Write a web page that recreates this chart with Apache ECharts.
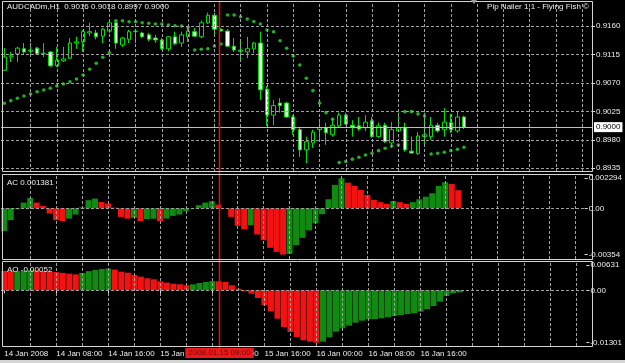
<!DOCTYPE html>
<html><head><meta charset="utf-8">
<script src="https://cdn.jsdelivr.net/npm/echarts@6/dist/echarts.min.js"></script>
<style>html,body{margin:0;padding:0;background:#000;}#c{width:625px;height:363px;}</style>
</head><body><div id="c"></div>
<script>
// ---- data (H1 bars, 14 Jan 2008 00:00 onwards) ----
const opens = [0.9090,0.9111,0.9116,0.9124,0.9120,0.9125,0.9116,0.9119,0.9097,0.9105,
0.9109,0.9133,0.9135,0.9149,0.9149,0.9144,0.9152,0.9165,0.9130,0.9139,
0.9151,0.9149,0.9146,0.9141,0.9138,0.9124,0.9143,0.9133,0.9143,0.9151,
0.9143,0.9165,0.9177,0.9155,0.9152,0.9128,0.9120,0.9119,0.9124,0.9133,
0.9060,0.9019,0.9038,0.9038,0.9016,0.8996,0.8964,0.8975,0.8996,0.8999,
0.8988,0.9002,0.9019,0.9003,0.9002,0.8999,0.9010,0.8985,0.9003,0.8975,
0.8994,0.8999,0.8962,0.8958,0.8985,0.8985,0.9003,0.8996,0.9007,0.8994,
0.9016];
const closes = [0.9111,0.9113,0.9125,0.9119,0.9122,0.9116,0.9117,0.9097,0.9106,0.9108,
0.9133,0.9135,0.9151,0.9151,0.9143,0.9155,0.9165,0.9133,0.9141,0.9151,
0.9152,0.9143,0.9139,0.9138,0.9124,0.9143,0.9132,0.9146,0.9152,0.9144,
0.9165,0.9177,0.9155,0.9152,0.9128,0.9122,0.9122,0.9124,0.9133,0.9059,
0.9019,0.9034,0.9034,0.9016,0.8996,0.8964,0.8977,0.8992,0.8999,0.8991,
0.9003,0.9019,0.9005,0.9000,0.8997,0.9008,0.8985,0.9002,0.8977,0.8996,
0.8999,0.8964,0.8959,0.8986,0.8988,0.9003,0.8994,0.9008,0.8996,0.9016,
0.9000];
const highs = [0.9125,0.9119,0.9127,0.9133,0.9133,0.9127,0.9133,0.9120,0.9127,0.9127,
0.9141,0.9143,0.9154,0.9165,0.9154,0.9157,0.9169,0.9169,0.9143,0.9154,
0.9155,0.9151,0.9149,0.9146,0.9141,0.9144,0.9151,0.9151,0.9158,0.9157,
0.9169,0.9181,0.9181,0.9157,0.9155,0.9141,0.9136,0.9143,0.9135,0.9151,
0.9065,0.9043,0.9046,0.9040,0.9019,0.8999,0.8985,0.8996,0.9011,0.9007,
0.9015,0.9023,0.9023,0.9011,0.9016,0.9019,0.9016,0.9007,0.9007,0.9008,
0.9023,0.9007,0.8985,0.8992,0.9023,0.9016,0.9007,0.9030,0.9021,0.9024,
0.9018];
const lows = [0.9089,0.9103,0.9103,0.9114,0.9116,0.9114,0.9111,0.9095,0.9095,0.9103,
0.9108,0.9124,0.9119,0.9144,0.9139,0.9133,0.9149,0.9124,0.9127,0.9133,
0.9133,0.9141,0.9136,0.9133,0.9122,0.9120,0.9130,0.9127,0.9135,0.9143,
0.9141,0.9163,0.9144,0.9151,0.9127,0.9119,0.9105,0.9109,0.9117,0.9043,
0.9002,0.9003,0.9023,0.9015,0.8988,0.8953,0.8943,0.8967,0.8980,0.8972,
0.8985,0.9000,0.9003,0.8985,0.8994,0.8994,0.8983,0.8983,0.8975,0.8967,
0.8992,0.8961,0.8958,0.8956,0.8972,0.8980,0.8991,0.8985,0.8991,0.8991,
0.8997];
const sarValues = [0.90378,0.90419,0.90457,0.90493,0.90525,0.90561,0.90588,0.90615,0.90651,0.90683,
0.90719,0.90762,0.90826,0.90915,0.91010,0.91105,0.91178,0.91684,0.91684,0.91668,
0.91668,0.91652,0.91643,0.91632,0.91632,0.91616,0.91605,0.91600,0.91579,0.91221,
0.91232,0.91241,0.91284,0.91315,0.91774,0.91774,0.91747,0.91711,0.91671,0.91632,
0.91537,0.91510,0.91368,0.91247,0.91126,0.90983,0.90773,0.90577,0.90383,0.90229,
0.90125,0.89439,0.89455,0.89493,0.89524,0.89560,0.89587,0.89628,0.89666,0.89702,
0.89718,0.90245,0.90245,0.90209,0.90177,0.89576,0.89587,0.89603,0.89628,0.89651,
0.89682];
const acValues = [-0.00175,-0.00091,-0.00008,0.00044,0.00079,0.00044,0.00018,-0.00040,-0.00091,-0.00098,
-0.00079,-0.00048,0.00007,0.00062,0.00074,0.00049,0.00036,0.00005,-0.00066,-0.00079,
-0.00073,-0.00098,-0.00083,-0.00080,-0.00098,-0.00079,-0.00058,-0.00048,-0.00022,0.00002,
0.00024,0.00044,0.00054,0.00028,-0.00002,-0.00066,-0.00134,-0.00160,-0.00130,-0.00200,
-0.00244,-0.00302,-0.00333,-0.00354,-0.00349,-0.00282,-0.00226,-0.00169,-0.00115,-0.00045,
0.00069,0.00179,0.002294,0.00196,0.00171,0.00140,0.00102,0.00064,0.00047,0.00034,
0.00056,0.00047,0.00034,0.00047,0.00069,0.00089,0.00115,0.00171,0.00199,0.00186,
0.001381];
const aoValues = [0.00480,0.00472,0.00476,0.00485,0.00498,0.00490,0.00478,0.00466,0.00452,0.00432,
0.00412,0.00395,0.00430,0.00475,0.00505,0.00530,0.00540,0.00515,0.00462,0.00437,
0.00380,0.00337,0.00298,0.00273,0.00223,0.00189,0.00164,0.00149,0.00124,0.00149,
0.00181,0.00206,0.00231,0.00223,0.00206,0.00124,0.00040,-0.00025,-0.00084,-0.00191,
-0.00372,-0.00526,-0.00705,-0.00911,-0.01035,-0.01159,-0.01241,-0.01275,-0.01301,-0.01275,
-0.01166,-0.01027,-0.00943,-0.00878,-0.00804,-0.00754,-0.00720,-0.00712,-0.00695,-0.00670,
-0.00638,-0.00613,-0.00588,-0.00571,-0.00531,-0.00471,-0.00390,-0.00283,-0.00141,-0.00074,
-0.00052];
const priceTicks = [0.9160,0.9115,0.9070,0.9025,0.8980,0.8935];
const acTicks = [0.002294,0,-0.00354];
const acTickLabels = ['0.002294','0.00','-0.00354'];
const aoTicks = [0.00631,0,-0.01301];
const aoTickLabels = ['0.00631','0.00','-0.01301'];
const timeTickLabels = ['14 Jan 2008','14 Jan 08:00','14 Jan 16:00','15 Jan 00:00','15 Jan 08:00','15 Jan 16:00','16 Jan 00:00','16 Jan 08:00','16 Jan 16:00'];
const lastPrice = 0.9000;
const markerBar = 33;
const markerLabel = '2008.01.15 09:00';
const headerText = 'AUDCADm,H1  0.9016 0.9018 0.8997 0.9000';
const eaText = 'Pip Nailer 1.1 - Flying Fish \u00A9';
const acText = 'AC 0.001381';
const aoText = 'AO -0.00052';

// ---- chart ----
const N = 90; // visible slots (incl. empty right margin)
const cats = [];
for (let i = 0; i < N; i++) {
  const d = 14 + Math.floor(i / 24), h = i % 24;
  cats.push('2008.01.' + d + ' ' + String(h).padStart(2, '0') + ':00');
}
const candleData = opens.map((o, i) => [o, closes[i], lows[i], highs[i]]);
const UP = '#118a11', DN = '#f21212';
function histData(vals, firstColor) {
  return vals.map((v, i) => ({
    value: v,
    itemStyle: { color: i === 0 ? firstColor : (v > vals[i - 1] ? UP : DN) }
  }));
}
const FONT = '"Liberation Sans", Arial, sans-serif';
const TXT = '#eeeeee';
function gridDash() { return { color: '#a0a0a0', type: [3, 2], width: 1 }; }
function vLines() {
  const a = [];
  for (let i = 4; i < N; i += 4) a.push({ xAxis: cats[i], lineStyle: gridDash() });
  return a;
}
function guideSeries(idx, extra) {
  return {
    type: 'line', xAxisIndex: idx, yAxisIndex: idx, data: [], silent: true, z: 1,
    markLine: {
      silent: true, animation: false, symbol: ['none', 'none'], precision: 6,
      label: { show: false }, emphasis: { disabled: true },
      data: vLines().concat(extra)
    }
  };
}
// vertical time-marker line (one custom series across all three panels)
const markerSeries = {
  type: 'custom', xAxisIndex: 2, yAxisIndex: 2, silent: true, z: 5, clip: false,
  data: [[markerBar]], encode: { x: 0 },
  renderItem: function (params, api) {
    const cs = params.coordSys;
    const x = Math.round(api.coord([api.value(0), 0])[0]) + 0.5;
    return {
      type: 'group',
      children: [
        { type: 'rect', shape: { x: x - 0.8, y: 2, width: 1.6, height: cs.y + cs.height + 4 - 2 }, style: { fill: '#cc1a1a' } },
        {
          type: 'text', z2: 10,
          style: {
            text: markerLabel, x: x, y: cs.y + cs.height + 2, align: 'center', verticalAlign: 'top',
            fill: '#7a0000', backgroundColor: '#ea1a1a', padding: [1, 3, 1, 3], font: '8px ' + FONT
          }
        }
      ]
    };
  }
};
function labelFor(ticks, labels) {
  return v => { const k = ticks.findIndex(t => Math.abs(t - v) < 1e-9); return k >= 0 ? labels[k] : ''; };
}
const showTime = i => i % 8 === 0 && (i / 8) < timeTickLabels.length;

const option = {
  backgroundColor: '#000',
  animation: false,
  grid: [
    { left: 1, width: 591, top: 2, height: 170 },
    { left: 1, width: 591, top: 175, height: 84 },
    { left: 1, width: 591, top: 262, height: 84 }
  ],
  xAxis: [0, 1, 2].map(g => ({
    type: 'category', gridIndex: g, data: cats, boundaryGap: true,
    axisLine: { show: false }, splitLine: { show: false },
    axisTick: g === 2 ? { show: true, interval: showTime, alignWithLabel: true, length: 3, lineStyle: { color: '#dddddd' } } : { show: false },
    axisLabel: g === 2 ? {
      show: true, interval: showTime, align: 'left', margin: 4, color: TXT, fontSize: 8, fontFamily: FONT,
      formatter: (v, i) => timeTickLabels[i / 8] || ''
    } : { show: false }
  })),
  yAxis: [
    {
      type: 'value', gridIndex: 0, position: 'right', min: 0.8929, max: 0.9198,
      axisLine: { show: false }, splitLine: { show: false },
      axisTick: { show: true, customValues: priceTicks, length: 3, lineStyle: { color: '#dddddd' } },
      axisLabel: { show: true, customValues: priceTicks, formatter: v => v.toFixed(4), color: TXT, fontSize: 8, fontFamily: FONT, margin: 4 }
    },
    {
      type: 'value', gridIndex: 1, position: 'right', min: -0.003876, max: 0.002546,
      axisLine: { show: false }, splitLine: { show: false },
      axisTick: { show: true, customValues: acTicks, length: 3, lineStyle: { color: '#dddddd' } },
      axisLabel: { show: true, customValues: acTicks, formatter: labelFor(acTicks, acTickLabels), color: TXT, fontSize: 8, fontFamily: FONT, margin: 4 }
    },
    {
      type: 'value', gridIndex: 2, position: 'right', min: -0.013821, max: 0.007022,
      axisLine: { show: false }, splitLine: { show: false },
      axisTick: { show: true, customValues: aoTicks, length: 3, lineStyle: { color: '#dddddd' } },
      axisLabel: { show: true, customValues: aoTicks, formatter: labelFor(aoTicks, aoTickLabels), color: TXT, fontSize: 8, fontFamily: FONT, margin: 4 }
    }
  ],
  series: [
    guideSeries(0, priceTicks.map(p => ({ yAxis: p, lineStyle: gridDash() })).concat([
      {
        yAxis: lastPrice, lineStyle: { color: '#bdbdbd', type: 'solid', width: 1 },
        label: { show: true, position: 'end', distance: 2, formatter: lastPrice.toFixed(4), backgroundColor: '#ffffff', color: '#000000', fontSize: 8, fontFamily: FONT, padding: [1, 2, 1, 2] }
      }
    ])),
    guideSeries(1, [{ yAxis: 0, lineStyle: gridDash() }]),
    guideSeries(2, [{ yAxis: 0, lineStyle: gridDash() }]),
    {
      type: 'candlestick', xAxisIndex: 0, yAxisIndex: 0, data: candleData, barWidth: 4, z: 3,
      itemStyle: { color: '#000000', color0: '#f2fff2', borderColor: '#00e000', borderColor0: '#00e000', borderWidth: 1 }
    },
    {
      type: 'scatter', xAxisIndex: 0, yAxisIndex: 0, data: sarValues, symbol: 'circle', symbolSize: 3.6, z: 4,
      itemStyle: { color: '#2fd82f' }
    },
    {
      type: 'bar', xAxisIndex: 1, yAxisIndex: 1, data: histData(acValues, UP), barWidth: 6, z: 3
    },
    {
      type: 'bar', xAxisIndex: 2, yAxisIndex: 2, data: histData(aoValues, DN), barWidth: 6, z: 3
    },
    markerSeries
  ],
  graphic: [
    { type: 'rect', z: 100, silent: true, shape: { x: 2.5, y: 1.5, width: 590, height: 170 }, style: { fill: 'none', stroke: '#d4d4d4', lineWidth: 1 } },
    { type: 'rect', z: 100, silent: true, shape: { x: 2.5, y: 174.5, width: 590, height: 85 }, style: { fill: 'none', stroke: '#d4d4d4', lineWidth: 1 } },
    { type: 'rect', z: 100, silent: true, shape: { x: 2.5, y: 261.5, width: 590, height: 85 }, style: { fill: 'none', stroke: '#d4d4d4', lineWidth: 1 } },
    { type: 'rect', z: 100, silent: true, shape: { x: 0, y: 360, width: 625, height: 3 }, style: { fill: '#d6d6d6' } },
    { type: 'polygon', z: 100, silent: true, shape: { points: [[471, 0], [477, 0], [474, 4]] }, style: { fill: '#9a9a9a' } },
    { type: 'text', z: 100, silent: true, style: { text: headerText, x: 7, y: 7, fill: TXT, font: '8px ' + FONT, verticalAlign: 'middle', align: 'left' } },
    { type: 'text', z: 100, silent: true, style: { text: eaText, x: 589, y: 7, fill: TXT, font: '8px ' + FONT, verticalAlign: 'middle', align: 'right' } },
    { type: 'text', z: 100, silent: true, style: { text: acText, x: 7, y: 183, fill: TXT, font: '8px ' + FONT, verticalAlign: 'middle', align: 'left' } },
    { type: 'text', z: 100, silent: true, style: { text: aoText, x: 7, y: 270, fill: TXT, font: '8px ' + FONT, verticalAlign: 'middle', align: 'left' } }
  ]
};
const chart = echarts.init(document.getElementById('c'), null, { renderer: 'canvas', width: 625, height: 363 });
chart.setOption(option);
</script>
</body></html>
